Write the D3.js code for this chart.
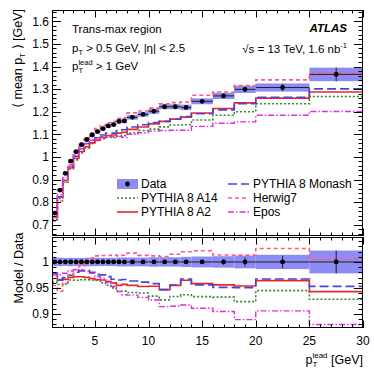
<!DOCTYPE html>
<html><head><meta charset="utf-8">
<script src="https://cdn.jsdelivr.net/npm/d3@7"></script>
<style>
html,body{margin:0;padding:0;background:#fff;}
text{font-family:"Liberation Sans",Arial,Helvetica,sans-serif;fill:#000;}
</style></head>
<body><svg id="c" width="374" height="374"></svg>
<script>
// ---------- data ----------
const binEdges = [1,1.5,2,2.5,3,3.5,4,4.5,5,5.5,6,6.5,7,7.5,8,9,10,11,12,13,14,16,18,20,25,30];
const dataVals = [0.751,0.853,0.927,0.981,1.023,1.054,1.077,1.097,1.112,1.125,1.137,1.143,1.157,1.159,1.175,1.188,1.202,1.222,1.222,1.219,1.246,1.270,1.299,1.307,1.365];
const dataSyst = [0.006,0.007,0.007,0.008,0.008,0.008,0.009,0.009,0.009,0.009,0.009,0.009,0.010,0.010,0.010,0.010,0.011,0.011,0.011,0.012,0.013,0.014,0.016,0.018,0.030];
const dataStat = [0.002,0.002,0.002,0.002,0.002,0.002,0.002,0.002,0.002,0.002,0.002,0.002,0.002,0.002,0.002,0.002,0.003,0.003,0.003,0.004,0.005,0.007,0.011,0.016,0.030];
const pythiaA14 = [0.722,0.816,0.888,0.947,0.987,1.018,1.040,1.059,1.073,1.080,1.086,1.086,1.092,1.094,1.106,1.117,1.123,1.133,1.141,1.142,1.163,1.184,1.200,1.235,1.267];
const pythiaA2 = [0.734,0.823,0.896,0.952,0.994,1.024,1.045,1.062,1.074,1.086,1.094,1.097,1.105,1.109,1.122,1.132,1.146,1.157,1.167,1.176,1.194,1.214,1.239,1.260,1.287];
const pythiaMonash = [0.735,0.824,0.899,0.956,1.003,1.036,1.059,1.075,1.085,1.097,1.105,1.105,1.117,1.120,1.132,1.142,1.152,1.157,1.168,1.179,1.191,1.208,1.235,1.264,1.301];
const herwig7 = [0.717,0.805,0.889,0.956,1.008,1.046,1.080,1.105,1.125,1.139,1.151,1.158,1.171,1.174,1.195,1.203,1.216,1.235,1.240,1.243,1.273,1.287,1.316,1.341,1.372];
const epos = [0.732,0.832,0.907,0.964,1.008,1.038,1.058,1.073,1.081,1.090,1.092,1.089,1.091,1.086,1.100,1.107,1.114,1.117,1.118,1.118,1.135,1.149,1.155,1.184,1.201];
const xTicksMajor = [5,10,15,20,25,30];
const yTopTicks = [0.7,0.8,0.9,1.0,1.1,1.2,1.3,1.4,1.5,1.6];
const yTopLabels = ["0.7","0.8","0.9","1","1.1","1.2","1.3","1.4","1.5","1.6"];
const yRatTicks = [0.9,0.95,1.0];
const yRatLabels = ["0.9","0.95","1"];

const models = [
  {name:"PYTHIA 8 A14", vals:pythiaA14, color:"#2e8b2e", dash:"2,2", w:1.6},
  {name:"PYTHIA 8 A2", vals:pythiaA2, color:"#e8282a", dash:null, w:1.6},
  {name:"PYTHIA 8 Monash", vals:pythiaMonash, color:"#4646dc", dash:"9,4", w:1.6},
  {name:"Herwig7", vals:herwig7, color:"#ff5a78", dash:"4,3", w:1.6},
  {name:"Epos", vals:epos, color:"#e22ae2", dash:"6,2,1.5,2", w:1.4}
];

// ---------- layout ----------
const svg = d3.select("#c");
const X0=52, X1=363;
const x = d3.scaleLinear().domain([1,30]).range([X0,X1]);
const yT = d3.scaleLinear().domain([0.65,1.65]).range([236,10]);
const yR = d3.scaleLinear().domain([0.873,1.048]).range([328,237]);
const bandCol = "#8c8cf4";

svg.append("defs").html(
 '<clipPath id="cpT"><rect x="'+X0+'" y="10" width="'+(X1-X0)+'" height="226"/></clipPath>'+
 '<clipPath id="cpR"><rect x="'+X0+'" y="237" width="'+(X1-X0)+'" height="91"/></clipPath>');

const bins = dataVals.map((v,i)=>({lo:binEdges[i],hi:binEdges[i+1],c:(binEdges[i]+binEdges[i+1])/2,v:v,s:dataSyst[i],st:dataStat[i]}));

function stepPts(vals, f){
  const p = vals.map((v,i)=>[binEdges[i], f(v,i)]);
  p.push([binEdges[vals.length], f(vals[vals.length-1], vals.length-1)]);
  return p;
}

function drawPanel(g, y, ratio){
  // band
  g.selectAll("rect.band").data(bins).enter().append("rect")
   .attr("x",d=>x(d.lo)).attr("width",d=>x(d.hi)-x(d.lo))
   .attr("y",d=> ratio? y(1+d.s/d.v) : y(d.v+d.s))
   .attr("height",d=> ratio? y(1-d.s/d.v)-y(1+d.s/d.v) : y(d.v-d.s)-y(d.v+d.s))
   .attr("fill",bandCol);
  // models
  models.forEach(m=>{
    const f = ratio ? (v,i)=>y(v/dataVals[i]) : (v)=>y(v);
    g.append("path").attr("d", d3.line().curve(d3.curveStepAfter)(stepPts(m.vals, f).map(p=>[x(p[0]),p[1]])))
     .attr("fill","none").attr("stroke",m.color).attr("stroke-width",m.w)
     .attr("stroke-dasharray",m.dash);
  });
  // data x-errors, stat bars and points
  g.selectAll("line.xe").data(bins).enter().append("line")
   .attr("x1",d=>x(d.lo)).attr("x2",d=>x(d.hi))
   .attr("y1",d=>ratio?y(1):y(d.v)).attr("y2",d=>ratio?y(1):y(d.v))
   .attr("stroke","#222").attr("stroke-width",1);
  g.selectAll("line.ye").data(bins).enter().append("line")
   .attr("x1",d=>x(d.c)).attr("x2",d=>x(d.c))
   .attr("y1",d=>ratio?y(1+d.st/d.v):y(d.v+d.st)).attr("y2",d=>ratio?y(1-d.st/d.v):y(d.v-d.st))
   .attr("stroke","#222").attr("stroke-width",1);
  g.selectAll("circle").data(bins).enter().append("circle")
   .attr("cx",d=>x(d.c)).attr("cy",d=>ratio?y(1):y(d.v)).attr("r",2.4).attr("fill","#000");
}

drawPanel(svg.append("g").attr("clip-path","url(#cpT)"), yT, false);
drawPanel(svg.append("g").attr("clip-path","url(#cpR)"), yR, true);

// ---------- frames & ticks ----------
function frame(top, bot, y, majors, minors, majL, minL, labels){
  const g = svg.append("g").attr("stroke","#000").attr("stroke-width",1);
  g.append("rect").attr("x",X0+0.5).attr("y",top+0.5).attr("width",X1-X0-1).attr("height",bot-top-1).attr("fill","none");
  // y ticks left & right
  minors.forEach(v=>{ const yy=Math.round(y(v))+0.5;
    g.append("line").attr("x1",X0).attr("x2",X0+minL).attr("y1",yy).attr("y2",yy);
    g.append("line").attr("x1",X1).attr("x2",X1-minL).attr("y1",yy).attr("y2",yy);});
  majors.forEach(v=>{ const yy=Math.round(y(v))+0.5;
    g.append("line").attr("x1",X0).attr("x2",X0+majL).attr("y1",yy).attr("y2",yy);
    g.append("line").attr("x1",X1).attr("x2",X1-majL).attr("y1",yy).attr("y2",yy);});
  majors.forEach((v,i)=>{
    svg.append("text").attr("x",49).attr("y",y(v)+4.3).attr("text-anchor","end").attr("font-size",12).text(labels[i]);
  });
  // x ticks bottom & top
  const xmin = d3.range(2,30,1).filter(v=>v%5!==0);
  xmin.forEach(v=>{const xx=Math.round(x(v))+0.5;
    g.append("line").attr("x1",xx).attr("x2",xx).attr("y1",bot).attr("y2",bot-(bot-top>150?3.5:3.5));
    g.append("line").attr("x1",xx).attr("x2",xx).attr("y1",top).attr("y2",top+(bot-top>150?3.5:3.5));});
  xTicksMajor.forEach(v=>{const xx=Math.round(x(v))+0.5;
    g.append("line").attr("x1",xx).attr("x2",xx).attr("y1",bot).attr("y2",bot-7.5);
    g.append("line").attr("x1",xx).attr("x2",xx).attr("y1",top).attr("y2",top+7.5);});
}
frame(10, 236, yT, yTopTicks, d3.range(0.66,1.645,0.02), 9, 4.5, yTopLabels);
frame(237, 328, yR, yRatTicks, d3.range(0.88,1.045,0.01), 9, 4.5, yRatLabels);

// x tick labels
xTicksMajor.forEach(v=>{
  svg.append("text").attr("x",x(v)).attr("y",345).attr("text-anchor","middle").attr("font-size",12).text(v);
});

// ---------- axis titles ----------
const xl = svg.append("text").attr("x",363).attr("y",364).attr("text-anchor","end").attr("font-size",12.5);
xl.append("tspan").text("p");
xl.append("tspan").attr("font-size",8).attr("dy",3).text("T");
xl.append("tspan").attr("font-size",8).attr("dx",-5).attr("dy",-9).text("lead");
xl.append("tspan").attr("dy",6).text(" [GeV]");

const yl = svg.append("text").attr("transform","translate(22,9) rotate(-90)").attr("text-anchor","end").attr("font-size",12.5);
yl.append("tspan").text("\u27E8 mean p");
yl.append("tspan").attr("font-size",8).attr("dy",3).text("T");
yl.append("tspan").attr("dy",-3).text(" \u27E9 [GeV]");

svg.append("text").attr("transform","translate(23,268) rotate(-90)").attr("text-anchor","middle").attr("font-size",12.5).text("Model / Data");

// ---------- annotations ----------
svg.append("text").attr("x",72).attr("y",33).attr("font-size",11.5).text("Trans-max region");
const t2 = svg.append("text").attr("x",72).attr("y",52).attr("font-size",11.5);
t2.append("tspan").text("p");
t2.append("tspan").attr("font-size",7.5).attr("dy",3).text("T");
t2.append("tspan").attr("dy",-3).text(" > 0.5 GeV, |\u03B7| < 2.5");
const t3 = svg.append("text").attr("x",72).attr("y",70).attr("font-size",11.5);
t3.append("tspan").text("p");
t3.append("tspan").attr("font-size",7.5).attr("dy",3).text("T");
t3.append("tspan").attr("font-size",7.5).attr("dx",-4.6).attr("dy",-8.5).text("lead");
t3.append("tspan").attr("dy",5.5).text(" > 1 GeV");

svg.append("text").attr("x",347).attr("y",32).attr("text-anchor","end").attr("font-size",11.5)
  .attr("font-weight","bold").attr("font-style","italic").text("ATLAS");
const t4 = svg.append("text").attr("x",347).attr("y",53).attr("text-anchor","end").attr("font-size",11.5);
t4.append("tspan").text("\u221As = 13 TeV, 1.6 nb");
t4.append("tspan").attr("font-size",7.5).attr("dy",-5).text("-1");

// ---------- legend ----------
const lg = svg.append("g");
const rows=[184,198,212];
lg.append("rect").attr("x",117).attr("y",179).attr("width",21).attr("height",10).attr("fill",bandCol);
lg.append("circle").attr("cx",127.5).attr("cy",184).attr("r",2.4).attr("fill","#000");
const legItems = [
  {label:"Data", col:0, row:0},
  {label:"PYTHIA 8 A14", col:0, row:1, m:models[0]},
  {label:"PYTHIA 8 A2", col:0, row:2, m:models[1]},
  {label:"PYTHIA 8 Monash", col:1, row:0, m:models[2]},
  {label:"Herwig7", col:1, row:1, m:models[3]},
  {label:"Epos", col:1, row:2, m:models[4]}
];
legItems.forEach(it=>{
  const sx = it.col===0?117:228, tx = it.col===0?141:253;
  if(it.m){
    lg.append("line").attr("x1",sx).attr("x2",sx+21).attr("y1",rows[it.row]).attr("y2",rows[it.row])
      .attr("stroke",it.m.color).attr("stroke-width",it.m.w).attr("stroke-dasharray",it.m.dash);
  }
  lg.append("text").attr("x",tx).attr("y",rows[it.row]+4.3).attr("font-size",12).text(it.label);
});
</script></body></html>
